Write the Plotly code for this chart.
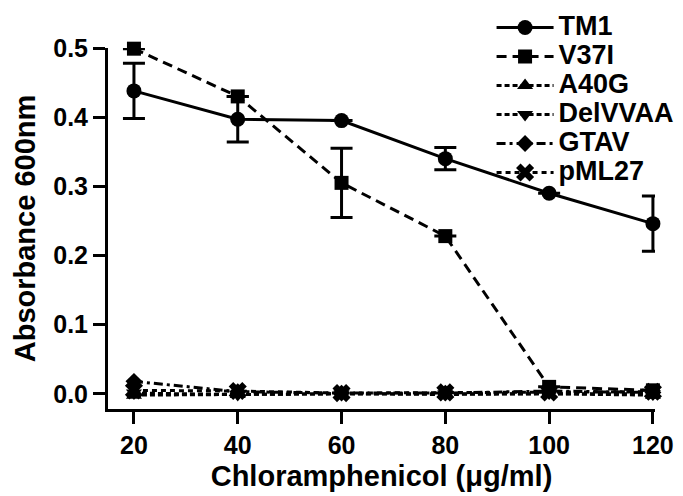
import plotly.graph_objects as go

conc = [20, 40, 60, 80, 100, 120]
x_ticks = [20, 40, 60, 80, 100, 120]
y_ticks = [0.0, 0.1, 0.2, 0.3, 0.4, 0.5]

series_names = ["TM1", "V37I", "A40G", "DelVVAA", "GTAV", "pML27"]
tm1 = [0.438, 0.397, 0.395, 0.340, 0.290, 0.246]
tm1_err = [0.040, 0.033, None, 0.016, None, 0.040]
v37i = [0.499, 0.430, 0.305, 0.228, 0.010, 0.005]
v37i_err = [None, None, 0.050, None, None, None]
a40g = [-0.002, -0.001, 0.000, -0.001, 0.000, -0.002]
delvvaa = [0.001, -0.001, 0.000, 0.000, 0.001, 0.000]
gtav = [0.018, 0.003, 0.001, 0.001, 0.004, 0.002]
pml27 = [0.005, 0.004, 0.001, 0.002, 0.002, 0.003]

values = [tm1, v37i, a40g, delvvaa, gtav, pml27]
errors = [tm1_err, v37i_err, None, None, None, None]
symbols = ["circle", "square", "triangle-up", "triangle-down", "diamond", "x"]
sizes = [15, 14, 14, 14, 13, 16]
dashes = ["solid", "10px,6px", "5px,3px", "5px,3px", "9px,4px,3px,4px", "5px,4px"]

FONT = "Liberation Sans, Arial, sans-serif"

fig = go.Figure()
for name, vals, err, sym, sz, dash in zip(series_names, values, errors, symbols, sizes, dashes):
    tr = dict(
        x=conc, y=vals, mode="lines+markers",
        name=f'<span style="font-size:27px">{name}</span>',
        line=dict(color="black", width=3, dash=dash),
        marker=dict(symbol=sym, size=sz, color="black", line=dict(width=0)),
        cliponaxis=False,
    )
    if err is not None:
        tr["error_y"] = dict(type="data", array=err, visible=True, color="black",
                             thickness=3, width=11)
    fig.add_trace(go.Scatter(**tr))

fig.update_layout(
    width=683, height=496,
    margin=dict(l=100, r=36, t=40, b=95, autoexpand=False),
    paper_bgcolor="white", plot_bgcolor="white",
    font=dict(family=FONT, color="black", size=25),
    showlegend=True,
    legend=dict(
        xref="container", yref="container",
        x=0.708, y=1.012, xanchor="left", yanchor="top",
        font=dict(family=FONT, size=20, color="black", weight="bold"),
        bgcolor="rgba(0,0,0,0)", itemwidth=57, tracegroupgap=0,
    ),
    xaxis=dict(
        range=[15, 120.4], tickvals=x_ticks, ticktext=[str(v) for v in x_ticks],
        showline=True, linecolor="black", linewidth=3, mirror=False,
        ticks="outside", ticklen=12, tickwidth=3, tickcolor="black",
        showgrid=False, zeroline=False, automargin=False,
        tickfont=dict(family=FONT, size=25, color="black", weight="bold"),
        title=dict(text="Chloramphenicol (μg/ml)", standoff=8,
                   font=dict(family=FONT, size=29, color="black", weight="bold")),
    ),
    yaxis=dict(
        range=[-0.022, 0.5], tickvals=y_ticks, ticktext=[f"{v:.1f}" for v in y_ticks],
        showline=True, linecolor="black", linewidth=3, mirror=False,
        ticks="outside", ticklen=12, tickwidth=3, tickcolor="black",
        showgrid=False, zeroline=False, automargin=False,
        tickfont=dict(family=FONT, size=25, color="black", weight="bold"),
        title=dict(text="Absorbance 600nm", standoff=10,
                   font=dict(family=FONT, size=29, color="black", weight="bold")),
    ),
)

fig.write_html("out.html")
